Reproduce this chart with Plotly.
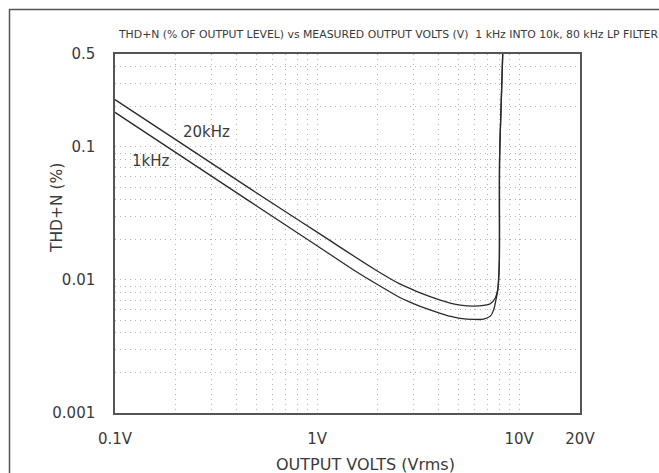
import plotly.graph_objects as go

# ---- data ----
volts_20k = [0.1, 0.466, 1.0, 1.94, 2.58, 2.9, 3.24, 4.07, 4.6, 5.11, 5.95, 6.67, 7.20, 7.62, 7.83, 7.92, 7.98, 8.0, 8.14, 8.29]
thdn_20k = [0.227, 0.0486, 0.0229, 0.01195, 0.0093, 0.0086, 0.0080, 0.00705, 0.00668, 0.00648, 0.00637, 0.00644, 0.00663, 0.00732, 0.00845, 0.01064, 0.0142, 0.08, 0.201, 0.5]

volts_1k = [0.1, 0.466, 1.0, 1.51, 2.0, 2.58, 2.9, 3.24, 4.07, 4.6, 5.11, 5.95, 6.67, 7.20, 7.48, 7.68, 7.85, 7.93, 7.98, 8.0, 8.14, 8.29]
thdn_1k = [0.182, 0.0388, 0.0181, 0.01195, 0.0092, 0.00735, 0.00678, 0.00633, 0.00562, 0.00532, 0.00515, 0.00506, 0.00508, 0.00535, 0.00598, 0.00711, 0.0085, 0.0106, 0.0142, 0.08, 0.201, 0.5]

x_tick_vals = [0.1, 1, 10, 20]
x_tick_text = ["0.1V", "1V", "10V", "20V"]
y_tick_vals = [0.001, 0.01, 0.1, 0.5]
y_tick_text = ["0.001", "0.01", "0.1", "0.5"]

title_text = "THD+N (% OF OUTPUT LEVEL) vs MEASURED OUTPUT VOLTS (V)  1 kHz INTO 10k, 80 kHz LP FILTER"
x_title = "OUTPUT VOLTS (Vrms)"
y_title = "THD+N (%)"

# grid positions (1..9 per decade)
x_grid = [m * 10 ** e for e in (-1, 0, 1) for m in range(1, 10) if 0.1 <= m * 10 ** e <= 20]
y_grid = [m * 10 ** e for e in (-3, -2, -1) for m in range(1, 10) if m * 10 ** e <= 0.5]

FONT = "DejaVu Sans"
TXT = "#3a3a3a"
LINE = "#2a2a2a"
GRID = "#b3b3b3"

fig = go.Figure()
fig.add_trace(go.Scatter(x=volts_20k, y=thdn_20k, mode="lines", name="20kHz",
                         line=dict(color=LINE, width=1.3, shape="spline", smoothing=1.0),
                         showlegend=False))
fig.add_trace(go.Scatter(x=volts_1k, y=thdn_1k, mode="lines", name="1kHz",
                         line=dict(color=LINE, width=1.3, shape="spline", smoothing=1.0),
                         showlegend=False))

W, H = 659, 473
L, R, T, B = 115, 79, 54, 60
pw, ph = W - L - R, H - T - B

def px(x):
    return (x - L) / pw

def py(y):
    return (H - B - y) / ph

fig.update_layout(
    width=W, height=H,
    margin=dict(l=L, r=R, t=T, b=B, pad=0),
    paper_bgcolor="white", plot_bgcolor="white",
    font=dict(family=FONT, color=TXT, size=15),
    xaxis=dict(type="log", range=[-1, 1.30103],
               tickmode="array", tickvals=x_tick_vals, ticktext=x_tick_text,
               showgrid=True, gridcolor=GRID, griddash="1px,4px", gridwidth=1,
               minor=dict(tickmode="array", tickvals=x_grid, showgrid=True,
                          gridcolor=GRID, griddash="1px,4px", gridwidth=1, ticks=""),
               showline=True, linecolor="#555", linewidth=1.5, mirror=True,
               ticks="", ticklabelstandoff=11, zeroline=False,
               tickfont=dict(size=15, color=TXT)),
    yaxis=dict(type="log", range=[-3, -0.30103],
               tickmode="array", tickvals=y_tick_vals, ticktext=y_tick_text,
               showgrid=True, gridcolor=GRID, griddash="1px,4px", gridwidth=1,
               minor=dict(tickmode="array", tickvals=y_grid, showgrid=True,
                          gridcolor=GRID, griddash="1px,4px", gridwidth=1, ticks=""),
               showline=True, linecolor="#555", linewidth=1.5, mirror=True,
               ticks="", ticklabelstandoff=15, zeroline=False,
               tickfont=dict(size=15, color=TXT)),
)

annos = [
    dict(text=title_text, x=px(116), y=py(35), xanchor="left", yanchor="middle",
         font=dict(size=10.85, color=TXT)),
    dict(text=x_title, x=px(365), y=py(464), xanchor="center", yanchor="middle",
         font=dict(size=16, color=TXT)),
    dict(text=y_title, x=px(57), y=py(208), xanchor="center", yanchor="middle",
         textangle=-90, font=dict(size=15.5, color=TXT)),
    dict(text="20kHz", x=px(206), y=py(132), xanchor="center", yanchor="middle",
         font=dict(size=15, color=TXT)),
    dict(text="1kHz", x=px(151), y=py(160.5), xanchor="center", yanchor="middle",
         font=dict(size=15, color=TXT)),
]
for a in annos:
    fig.add_annotation(xref="paper", yref="paper", showarrow=False, **a)

# outer frame (extends beyond the right and bottom edges)
fig.add_shape(type="rect", xref="paper", yref="paper",
              x0=px(9.5), x1=px(W + 50), y0=py(H + 50), y1=py(9.5),
              line=dict(color="#555", width=1.5), fillcolor="rgba(0,0,0,0)")

fig.write_html("out.html")
